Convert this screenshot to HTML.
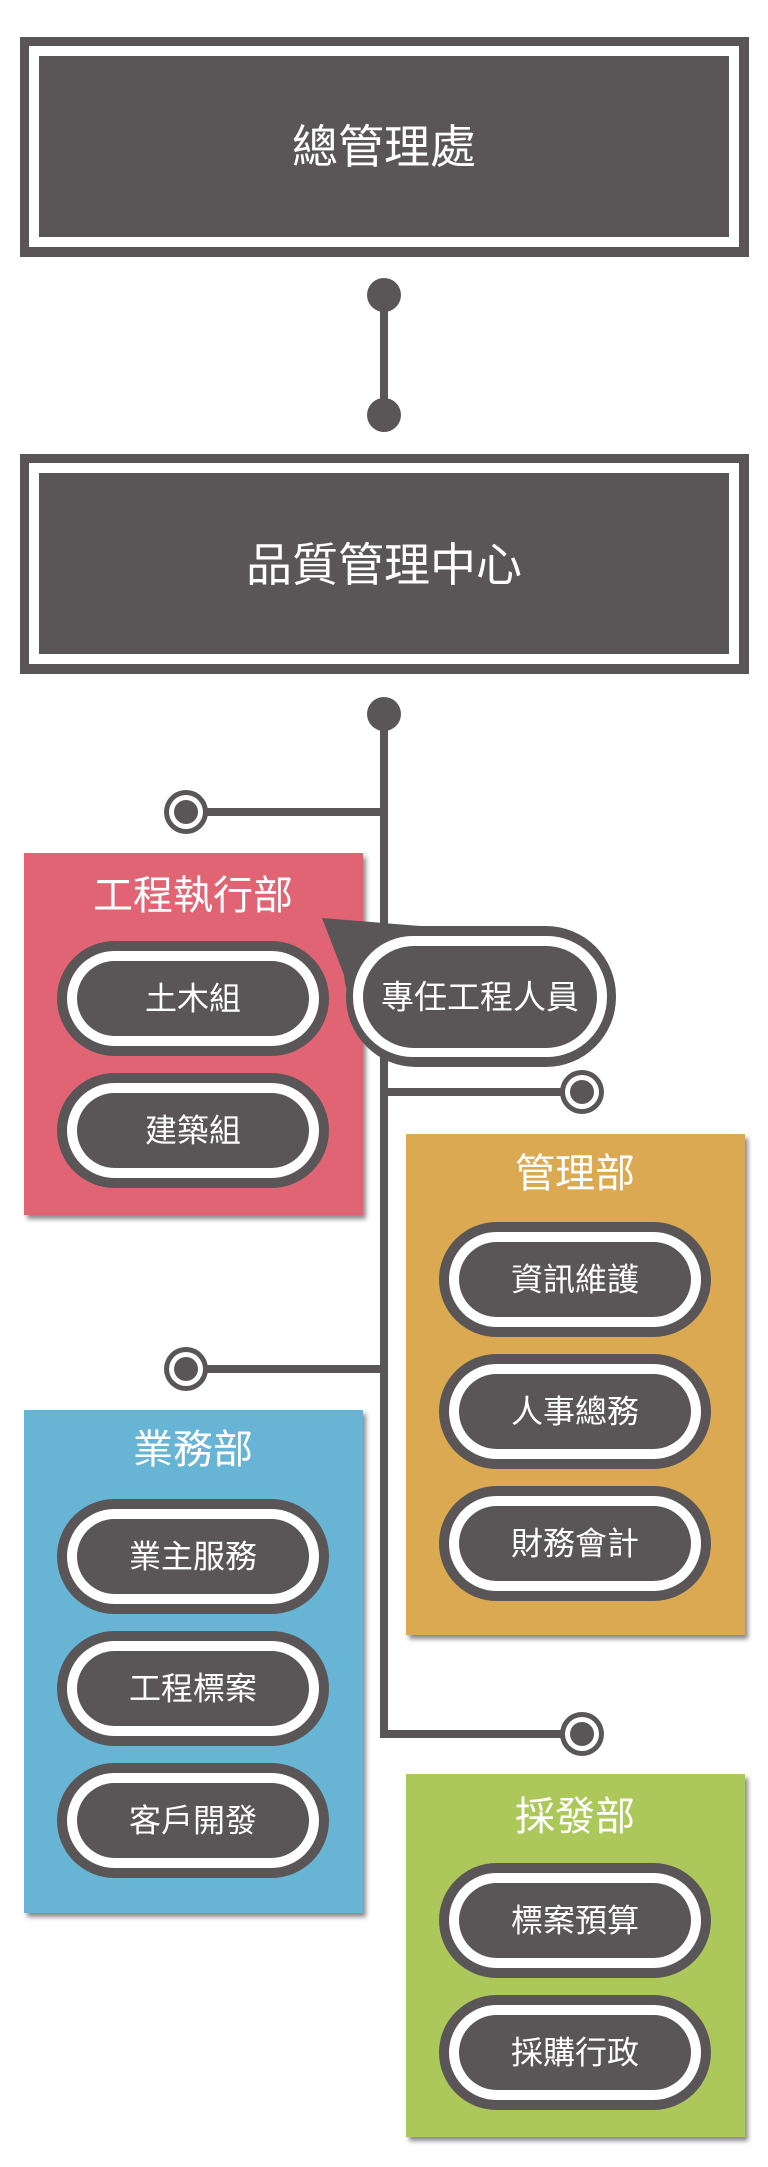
<!DOCTYPE html>
<html><head><meta charset="utf-8"><style>
html,body{margin:0;padding:0;background:#fff;width:768px;height:2167px;overflow:hidden}
svg{display:block}
text{font-family:"Liberation Sans","Noto Sans CJK TC",sans-serif;fill:#fff;text-anchor:middle;dominant-baseline:central}
</style></head><body>
<svg width="768" height="2167" viewBox="0 0 768 2167" xmlns="http://www.w3.org/2000/svg">
<defs>
<filter id="sh" x="-10%" y="-10%" width="130%" height="130%"><feGaussianBlur stdDeviation="2.5"/></filter>
</defs>
<g fill="#5a5657">
<!-- top box -->
<rect x="20" y="37" width="729" height="220"/>
<rect x="29" y="46" width="710" height="201" fill="#fff"/>
<rect x="39" y="56" width="690" height="181"/>
<!-- second box -->
<rect x="20" y="454" width="729" height="220"/>
<rect x="29" y="463" width="710" height="201" fill="#fff"/>
<rect x="39" y="473" width="690" height="181"/>
<!-- connector -->
<rect x="380" y="295" width="8" height="120"/>
<circle cx="384" cy="295" r="17"/>
<circle cx="384" cy="415" r="17"/>
<circle cx="384" cy="714" r="17"/>
</g>
<!-- spine -->
<g stroke="#5a5657" stroke-width="8" fill="none">
<path d="M384 714 V1734 H582"/>
<path d="M186 812 H384"/>
<path d="M384 1092 H582"/>
<path d="M186 1369 H384"/>
</g>
<g>
<circle cx="186" cy="812" r="22" fill="#5a5657"/><circle cx="186" cy="812" r="17" fill="#fff"/><circle cx="186" cy="812" r="12" fill="#5a5657"/>
<circle cx="582" cy="1092" r="22" fill="#5a5657"/><circle cx="582" cy="1092" r="17" fill="#fff"/><circle cx="582" cy="1092" r="12" fill="#5a5657"/>
<circle cx="186" cy="1369" r="22" fill="#5a5657"/><circle cx="186" cy="1369" r="17" fill="#fff"/><circle cx="186" cy="1369" r="12" fill="#5a5657"/>
<circle cx="582" cy="1734" r="22" fill="#5a5657"/><circle cx="582" cy="1734" r="17" fill="#fff"/><circle cx="582" cy="1734" r="12" fill="#5a5657"/>
</g>
<!-- dept boxes shadows -->
<g fill="#888" filter="url(#sh)">
<rect x="27" y="857" width="339" height="362"/>
<rect x="409" y="1138" width="339" height="501"/>
<rect x="27" y="1414" width="339" height="503"/>
<rect x="409" y="1778" width="339" height="363"/>
</g>
<rect x="24" y="853" width="339" height="362" fill="#e06473"/>
<rect x="406" y="1134" width="339" height="501" fill="#dba951"/>
<rect x="24" y="1410" width="339" height="503" fill="#67b4d5"/>
<rect x="406" y="1774" width="339" height="363" fill="#adc85a"/>
<!-- titles -->
<text x="384" y="147" font-size="46">總管理處</text>
<text x="384" y="565" font-size="46">品質管理中心</text>
<text x="193" y="896" font-size="40">工程執行部</text>
<text x="575" y="1174" font-size="40">管理部</text>
<text x="193" y="1450" font-size="40">業務部</text>
<text x="575" y="1817" font-size="40">採發部</text>
<!-- pills -->
<g id="pills">
<g transform="translate(57,941)"><rect width="272" height="115" rx="57.5" fill="#5a5657"/><rect x="10" y="10" width="252" height="95" rx="47.5" fill="#fff"/><rect x="20" y="20" width="232" height="75" rx="37.5" fill="#5a5657"/><text x="136" y="57.5" font-size="32">土木組</text></g>
<g transform="translate(57,1073)"><rect width="272" height="115" rx="57.5" fill="#5a5657"/><rect x="10" y="10" width="252" height="95" rx="47.5" fill="#fff"/><rect x="20" y="20" width="232" height="75" rx="37.5" fill="#5a5657"/><text x="136" y="57.5" font-size="32">建築組</text></g>
<g transform="translate(439,1222)"><rect width="272" height="115" rx="57.5" fill="#5a5657"/><rect x="10" y="10" width="252" height="95" rx="47.5" fill="#fff"/><rect x="20" y="20" width="232" height="75" rx="37.5" fill="#5a5657"/><text x="136" y="57.5" font-size="32">資訊維護</text></g>
<g transform="translate(439,1354)"><rect width="272" height="115" rx="57.5" fill="#5a5657"/><rect x="10" y="10" width="252" height="95" rx="47.5" fill="#fff"/><rect x="20" y="20" width="232" height="75" rx="37.5" fill="#5a5657"/><text x="136" y="57.5" font-size="32">人事總務</text></g>
<g transform="translate(439,1486)"><rect width="272" height="115" rx="57.5" fill="#5a5657"/><rect x="10" y="10" width="252" height="95" rx="47.5" fill="#fff"/><rect x="20" y="20" width="232" height="75" rx="37.5" fill="#5a5657"/><text x="136" y="57.5" font-size="32">財務會計</text></g>
<g transform="translate(57,1499)"><rect width="272" height="115" rx="57.5" fill="#5a5657"/><rect x="10" y="10" width="252" height="95" rx="47.5" fill="#fff"/><rect x="20" y="20" width="232" height="75" rx="37.5" fill="#5a5657"/><text x="136" y="57.5" font-size="32">業主服務</text></g>
<g transform="translate(57,1631)"><rect width="272" height="115" rx="57.5" fill="#5a5657"/><rect x="10" y="10" width="252" height="95" rx="47.5" fill="#fff"/><rect x="20" y="20" width="232" height="75" rx="37.5" fill="#5a5657"/><text x="136" y="57.5" font-size="32">工程標案</text></g>
<g transform="translate(57,1763)"><rect width="272" height="115" rx="57.5" fill="#5a5657"/><rect x="10" y="10" width="252" height="95" rx="47.5" fill="#fff"/><rect x="20" y="20" width="232" height="75" rx="37.5" fill="#5a5657"/><text x="136" y="57.5" font-size="32">客戶開發</text></g>
<g transform="translate(439,1863)"><rect width="272" height="115" rx="57.5" fill="#5a5657"/><rect x="10" y="10" width="252" height="95" rx="47.5" fill="#fff"/><rect x="20" y="20" width="232" height="75" rx="37.5" fill="#5a5657"/><text x="136" y="57.5" font-size="32">標案預算</text></g>
<g transform="translate(439,1995)"><rect width="272" height="115" rx="57.5" fill="#5a5657"/><rect x="10" y="10" width="252" height="95" rx="47.5" fill="#fff"/><rect x="20" y="20" width="232" height="75" rx="37.5" fill="#5a5657"/><text x="136" y="57.5" font-size="32">採購行政</text></g>
</g>
<!-- speech bubble -->
<path d="M322 918 L420 926 L355 1010 Q345 990 344 975 Z" fill="#5a5657"/>
<rect x="346" y="926" width="270" height="141" rx="70" fill="#5a5657"/>
<rect x="353" y="936" width="254" height="121" rx="60" fill="#fff"/>
<rect x="363" y="946" width="234" height="102" rx="51" fill="#5a5657"/>
<text x="480" y="997" font-size="33">專任工程人員</text>
</svg>
</body></html>
